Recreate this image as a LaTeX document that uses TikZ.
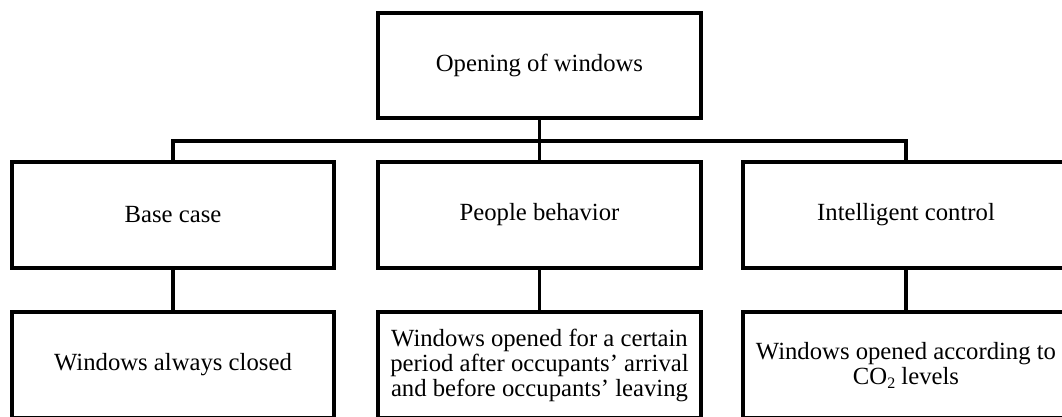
\documentclass[tikz,border=0pt]{standalone}
\usepackage{fontspec}
\setmainfont{Liberation Serif}
\begin{document}
\begin{tikzpicture}[x=1pt,y=-1pt,
  box/.style={draw=black, line width=3.2pt, fill=white, inner sep=0pt,
    minimum height=106pt, align=center,
    font=\fontsize{24.7}{25}\selectfont},
  conn/.style={draw=black, line width=3.2pt}]
\useasboundingbox (0,0) rectangle (1062,417);
\clip (0,0) rectangle (1062,417);
\node[box, minimum width=323pt, minimum height=105pt] (top) at (539.5,65.5) {Opening of windows};
\node[box, minimum width=322pt] (m1) at (173,215) {Base case};
\node[box, minimum width=323pt] (m2) at (539.5,215) {People behavior};
\node[box, minimum width=326pt] (m3) at (906,215) {Intelligent control};
\node[box, minimum width=322pt] (b1) at (173,365) {Windows always closed};
\node[box, minimum width=323pt] (b2) at (539.5,365) {Windows opened for a certain\\period after occupants’ arrival\\and before occupants’ leaving};
\node[box, minimum width=326pt] (b3) at (906,365) {Windows opened according to\\CO\raisebox{-0.35ex}{\fontsize{16}{16}\selectfont 2} levels};
\coordinate (bus) at (539.5,141);
\draw[conn] (top.south) -- (m2.north);
\draw[conn] (m1.north) |- (bus) -| (m3.north);
\draw[conn] (m1.south) -- (b1.north);
\draw[conn] (m2.south) -- (b2.north);
\draw[conn] (m3.south) -- (b3.north);
\end{tikzpicture}
\end{document}
